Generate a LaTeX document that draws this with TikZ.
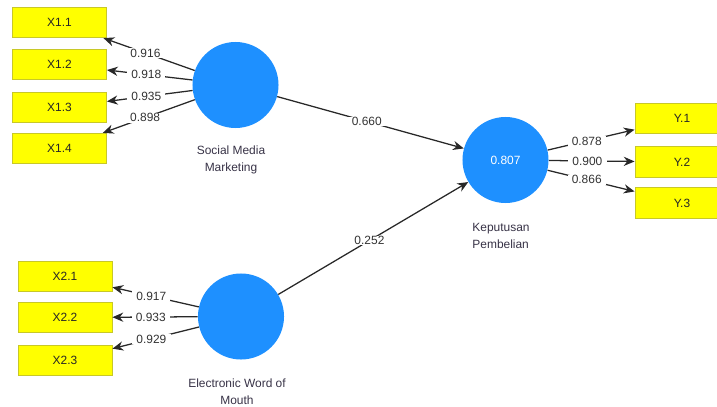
\documentclass[tikz,border=0pt]{standalone}
\usepackage{fontspec}
\setmainfont{Liberation Sans}
\usepackage{tikz}
\usetikzlibrary{positioning}
\usetikzlibrary{arrows.meta}

\definecolor{lvblue}{RGB}{30,144,255}
\definecolor{indyellow}{RGB}{255,255,0}
\definecolor{indborder}{RGB}{200,200,40}
\definecolor{linkgray}{RGB}{40,40,40}
\definecolor{captext}{RGB}{55,50,70}

\begin{document}
\begin{tikzpicture}[x=0.025cm,y=-0.025cm,
		latent/.style={circle,fill=lvblue,minimum size=2.15cm,inner sep=0pt,text=white,font=\fontsize{8.5}{10}\selectfont},
		indicator/.style={rectangle,fill=indyellow,draw=indborder,line width=0.6pt,minimum width=2.35cm,minimum height=0.76cm,inner sep=0pt,text=black!85,font=\fontsize{8.5}{10}\selectfont},
		caption/.style={text=captext,font=\fontsize{8.5}{12}\selectfont},
		link/.style={draw=linkgray,line width=0.9pt,-{Stealth[length=2.7mm,width=2.3mm]}},
		coef/.style={fill=white,inner xsep=3pt,inner ysep=0.5pt,text=black!80,font=\fontsize{8.5}{10}\selectfont}]
			
			\useasboundingbox (0,0) rectangle (717,407);
			
			\node[latent] (SMM) at (235.5,85) {};
			\node[caption,align=center] (SMMc) at (231,160) {Social Media\\Marketing};
			
			\node[latent] (EWOM) at (241,316.5) {};
			\node[caption,align=center] (EWOMc) at (237,392) {Electronic Word of\\Mouth};
			
			\node[latent] (KP) at (505.5,160) {0.807};
			\node[caption,align=left] (KPc) at (501,236) {Keputusan\\Pembelian};
			
			\node[indicator] (X11) at (59.5,22.5) {X1.1};
			\node[indicator] (X12) at (59.5,64.5) {X1.2};
			\node[indicator] (X13) at (59.5,107.5) {X1.3};
			\node[indicator] (X14) at (59.5,148.5) {X1.4};
			
			\node[indicator] (X21) at (65,276.5) {X2.1};
			\node[indicator] (X22) at (65,317.5) {X2.2};
			\node[indicator] (X23) at (65,360.5) {X2.3};
			
			\node[indicator] (Y1) at (682,118.5) {Y.1};
			\node[indicator] (Y2) at (682,162) {Y.2};
			\node[indicator] (Y3) at (682,203) {Y.3};
			
			\draw[link] (SMM) -- (X11) node[coef,pos=0.54] {0.916};
			\draw[link] (SMM) -- (X12) node[coef,pos=0.54] {0.918};
			\draw[link] (SMM) -- (X13) node[coef,pos=0.54] {0.935};
			\draw[link] (SMM) -- (X14) node[coef,pos=0.54] {0.898};
			
			\draw[link] (EWOM) -- (X21) node[coef,pos=0.55] {0.917};
			\draw[link] (EWOM) -- (X22) node[coef,pos=0.55] {0.933};
			\draw[link] (EWOM) -- (X23) node[coef,pos=0.55] {0.929};
			
			\draw[link] (KP) -- (Y1) node[coef,pos=0.45] {0.878};
			\draw[link] (KP) -- (Y2) node[coef,pos=0.45] {0.900};
			\draw[link] (KP) -- (Y3) node[coef,pos=0.45] {0.866};
			
			\draw[link] (SMM) -- (KP) node[coef,pos=0.48] {0.660};
			\draw[link] (EWOM) -- (KP) node[coef,pos=0.48] {0.252};
			
		\end{tikzpicture}
\end{document}
